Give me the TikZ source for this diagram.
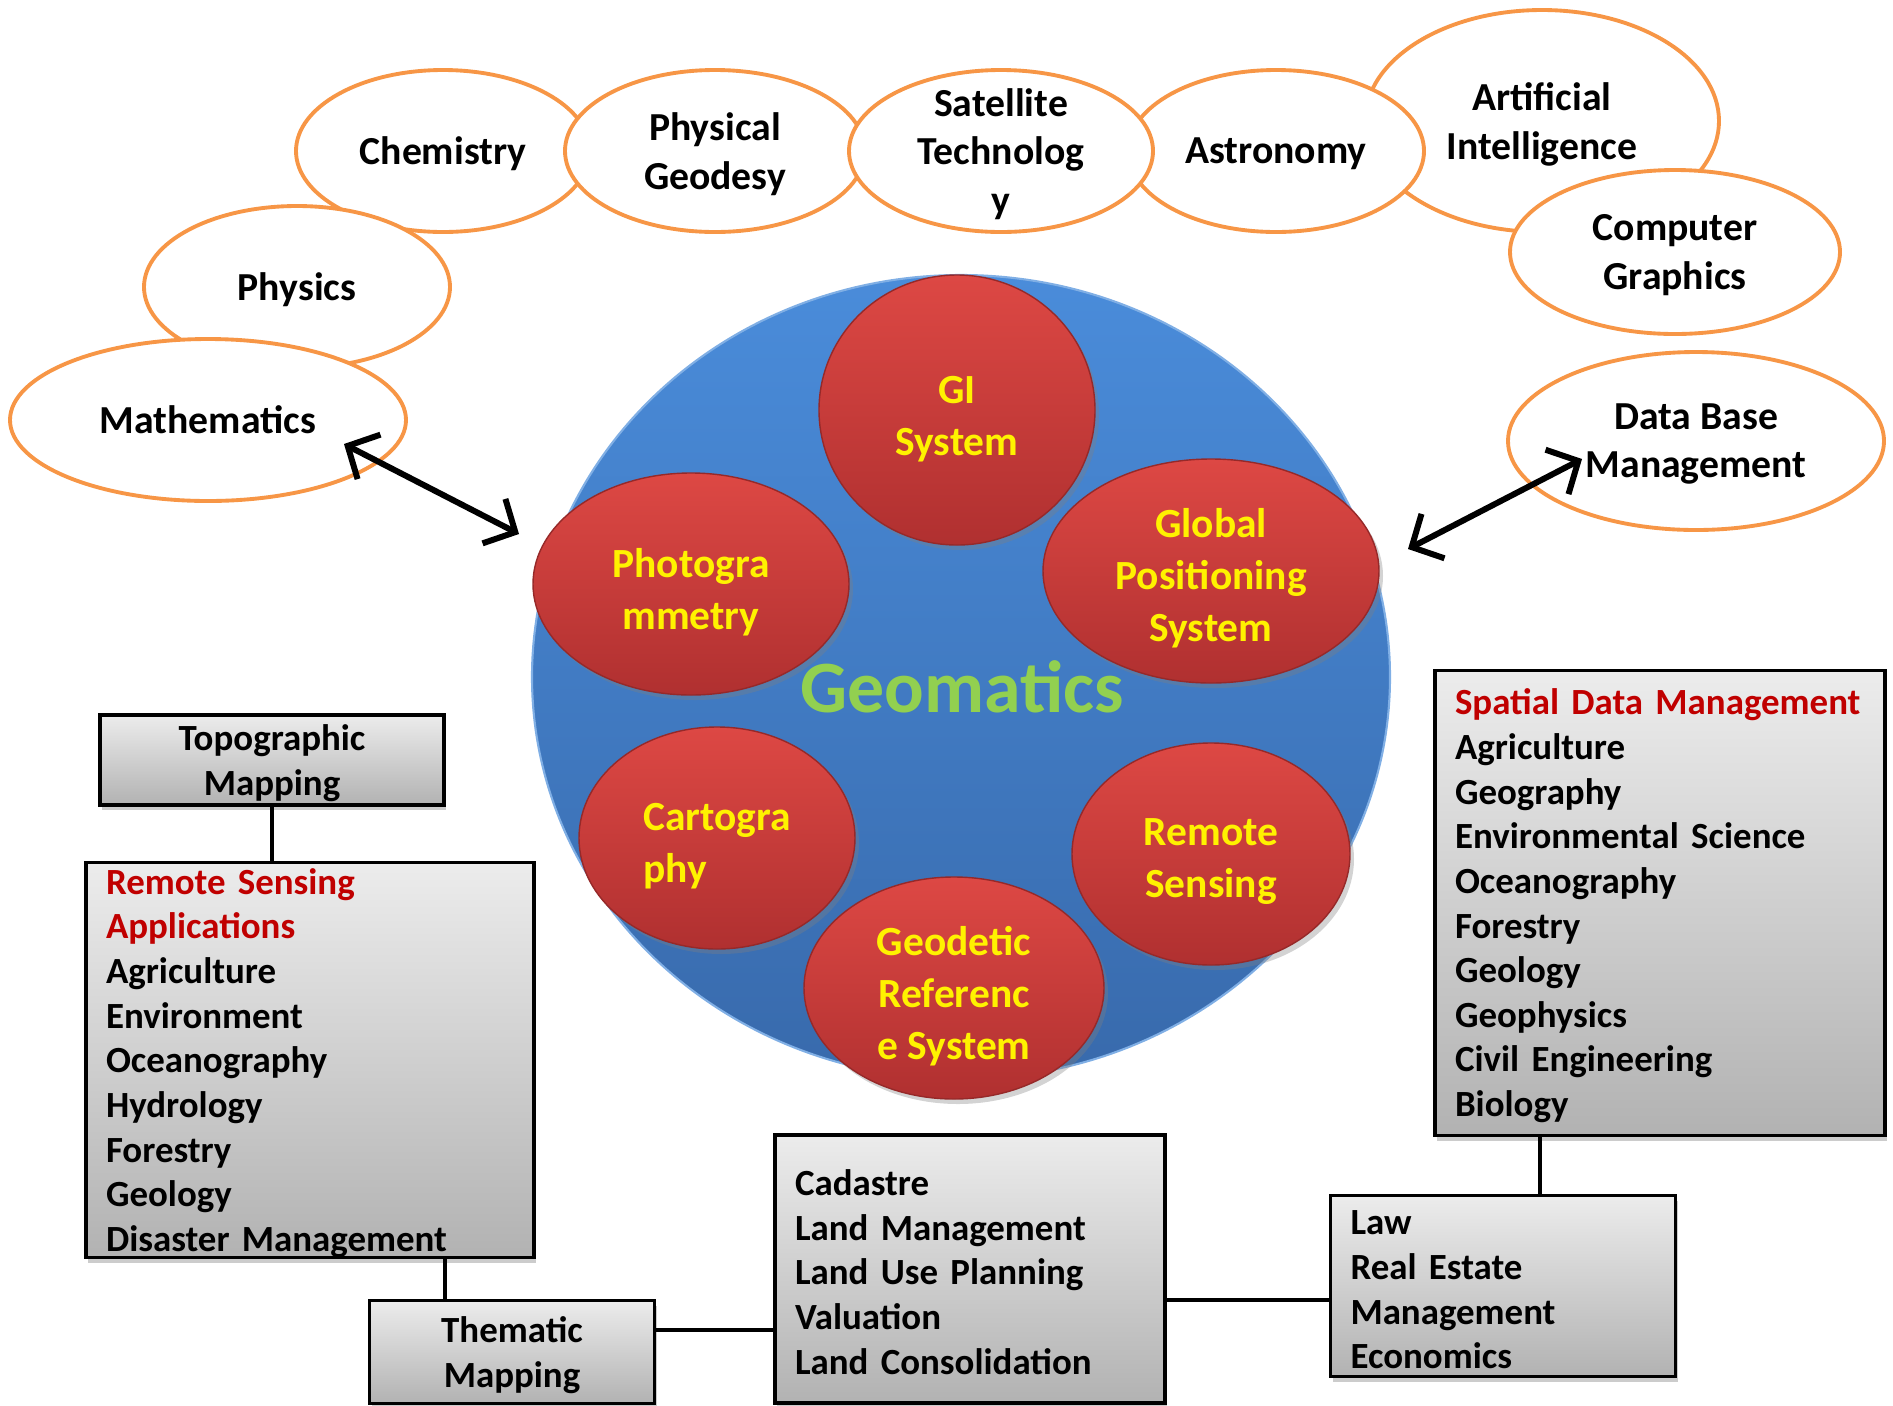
\documentclass[tikz,border=0pt]{standalone}
\usepackage{fontspec}
\setmainfont{Carlito}
\usetikzlibrary{calc,arrows.meta,positioning,shapes.geometric,shadows}

\definecolor{fieldline}{RGB}{247,150,70}
\definecolor{geogreen}{RGB}{146,208,80}
\definecolor{headred}{RGB}{192,0,0}
\definecolor{bluetop}{RGB}{74,140,218}
\definecolor{bluebot}{RGB}{56,106,172}
\definecolor{redtop}{RGB}{221,72,68}
\definecolor{redbot}{RGB}{176,48,48}
\definecolor{boxtop}{RGB}{236,236,236}
\definecolor{boxbot}{RGB}{178,178,178}

\hyphenpenalty=10000

\begin{document}
\begin{tikzpicture}[>={Straight Barb[length=2.4mm,width=5mm]}]
			\tikzset{field/.style= {draw=fieldline, line width=1.1pt, fill=white, ellipse, inner sep=0pt, align=center, text depth=-0.6pt, font=\fontsize{11.3}{13.7}\selectfont\bfseries},
				tech/.style= {ellipse, inner sep=0pt, top color=redtop, bottom color=redbot, draw=redbot!85!black, line width=0.4pt, drop shadow={shadow xshift=0.04cm, shadow yshift=-0.05cm, opacity=0.35}},
				techtext/.style= {align=center, text=yellow, font=\fontsize{11.8}{14.8}\selectfont\bfseries},
				block/.style= {draw, rectangle, line width=0.9pt, top color=boxtop, bottom color=boxbot, inner xsep=0.2cm, inner ysep=0pt, drop shadow={shadow xshift=0.02cm, shadow yshift=-0.05cm, opacity=0.4}, font=\fontsize{10.5}{12.7}\selectfont\bfseries, execute at begin node={\rule{0pt}{0.86em}}},
				link/.style= {draw, line width=1.1pt},
			}
			\useasboundingbox (0,0) rectangle (18.93,-14.05);

			% disciplines around the circle
			\node [field, minimum width=3.54cm, minimum height=2.22cm] (ai) at (15.42,-1.21) {Artificial\\Intelligence};
			\node [field, minimum width=2.94cm, minimum height=1.62cm] (chem) at (4.43,-1.51) {Chemistry};
			\node [field, minimum width=3.06cm, minimum height=1.62cm] (phys) at (2.97,-2.87) {Physics};
			\node [field, minimum width=3.96cm, minimum height=1.62cm] (math) at (2.08,-4.20) {Mathematics};
			\node [field, minimum width=3.00cm, minimum height=1.62cm] (geod) at (7.15,-1.51) {Physical\\Geodesy};
			\node [field, minimum width=2.96cm, minimum height=1.62cm] (astro) at (12.76,-1.51) {Astronomy};
			\node [field, minimum width=3.30cm, minimum height=1.64cm] (graph) at (16.75,-2.52) {Computer\\Graphics};
			\node [field, inner ysep=-7pt, minimum width=3.04cm, minimum height=1.62cm] (sat) at (10.01,-1.51) {Satellite\\Technolog\\y};
			\node [field, minimum width=3.76cm, minimum height=1.78cm] (dbm) at (16.96,-4.41) {Data Base\\Management};

			% geomatics core
			\node [ellipse, minimum width=8.58cm, minimum height=8.04cm, top color=bluetop, bottom color=bluebot, draw=bluetop!70!white, line width=0.6pt] (core) at (9.61,-6.77) {};
			\node [tech, minimum width=2.76cm, minimum height=2.70cm] (gis) at (9.57,-4.10) {};
			\node [tech, minimum width=3.16cm, minimum height=2.22cm] (photo) at (6.91,-5.84) {};
			\node [tech, minimum width=3.36cm, minimum height=2.24cm] (gps) at (12.11,-5.71) {};
			\node [tech, minimum width=2.76cm, minimum height=2.22cm] (carto) at (7.17,-8.38) {};
			\node [tech, minimum width=2.78cm, minimum height=2.22cm] (rs) at (12.11,-8.54) {};
			\node [tech, minimum width=3.00cm, minimum height=2.22cm] (grs) at (9.54,-9.88) {};
			\node [techtext] (gistext) at ([yshift=-0.09cm]gis) {GI\\System};
			\node [techtext] (phototext) at ([yshift=-0.08cm]photo) {Photogra\\mmetry};
			\node [techtext] (gpstext) at ([yshift=-0.07cm]gps) {Global\\Positioning\\System};
			\node [techtext, align=left] (cartotext) at ([yshift=-0.08cm]carto) {Cartogra\\phy};
			\node [techtext] (rstext) at ([yshift=-0.08cm]rs) {Remote\\Sensing};
			\node [techtext] (grstext) at ([yshift=-0.08cm]grs) {Geodetic\\Referenc\\e System};
			\node [text=geogreen, font=\fontsize{21}{25}\selectfont\bfseries] (geom) at (9.62,-6.87) {Geomatics};

			% application boxes
			\node [block, align=center, text width=3.04cm, minimum height=0.90cm] (topo) at (2.72,-7.60) {Topographic\\Mapping};
			\node [block, align=left, text width=4.08cm, minimum height=3.92cm] (rsapp) at (3.10,-10.60) {\textcolor{headred}{Remote Sensing}\\\textcolor{headred}{Applications}\\Agriculture\\Environment\\Oceanography\\Hydrology\\Forestry\\Geology\\Disaster Management};
			\node [block, align=center, text width=2.45cm, minimum height=1.03cm] (thematic) at (5.12,-13.52) {Thematic\\Mapping};
			\node [block, align=left, text width=3.50cm, minimum height=2.68cm] (cadastre) at (9.70,-12.69) {Cadastre\\Land Management\\Land Use Planning\\Valuation\\Land Consolidation};
			\node [block, align=left, text width=3.05cm, minimum height=1.81cm] (law) at (15.03,-12.86) {Law\\Real Estate\\Management\\Economics};
			\node [block, align=left, text width=4.10cm, minimum height=4.65cm] (sdm) at (16.60,-9.03) {\textcolor{headred}{\mbox{Spatial Data Management}}\\Agriculture\\Geography\\Environmental Science\\Oceanography\\Forestry\\Geology\\Geophysics\\Civil Engineering\\Biology};

			\path[link] (topo.south) -- (topo.south |- rsapp.north);
			\path[link] ([xshift=-0.67cm]thematic.north) -- ([xshift=-0.67cm]thematic.north |- rsapp.south);
			\path[link] ([yshift=0.22cm]thematic.east) -- ([yshift=0.22cm]thematic.east -| cadastre.west);
			\path[link] ([yshift=-0.31cm]cadastre.east) -- ([yshift=-0.31cm]cadastre.east -| law.west);
			\path[draw, line width=0.9pt] ([xshift=0.37cm]law.north) -- ([xshift=0.37cm]law.north |- sdm.south);

			\coordinate (mathend) at (3.44,-4.44);
			\coordinate (coreleft) at (5.19,-5.34);
			\coordinate (coreright) at (14.08,-5.49);
			\coordinate (dbmend) at (15.82,-4.59);
			\path[draw, <->, line width=1.7pt] (mathend) -- (coreleft);
			\path[draw, <->, line width=1.7pt] (coreright) -- (dbmend);
		\end{tikzpicture}
\end{document}
